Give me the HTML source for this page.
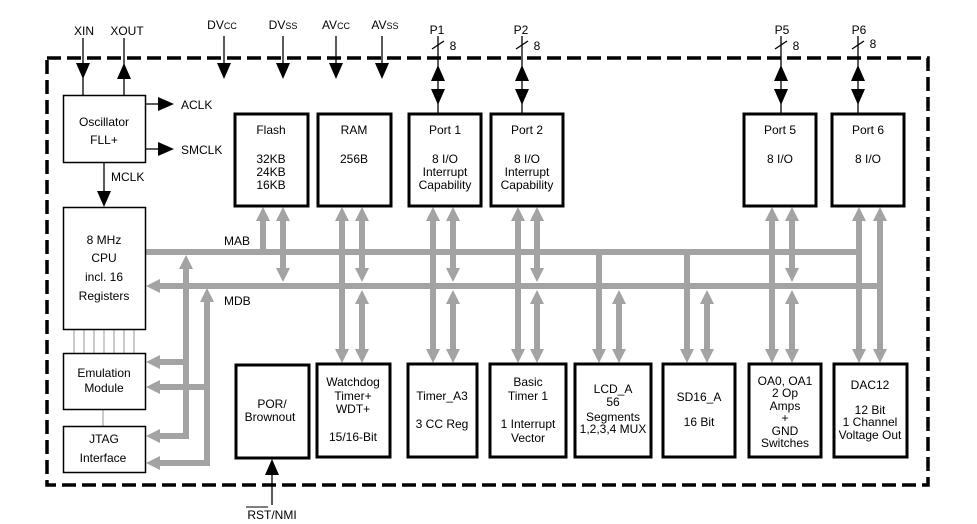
<!DOCTYPE html>
<html><head><meta charset="utf-8"><style>
html,body{margin:0;padding:0;background:#fff}
svg{display:block}
text{font-family:"Liberation Sans",Arial,sans-serif;font-size:12px;fill:#000}
</style></head><body>
<svg width="977" height="524" viewBox="0 0 977 524" xmlns="http://www.w3.org/2000/svg">
<defs>
<marker id="g" viewBox="0 0 14 14" markerWidth="14" markerHeight="14" refX="0" refY="7" orient="auto-start-reverse" markerUnits="userSpaceOnUse">
<path d="M0,0 L14,7 L0,14 z" fill="#a3a3a3"/></marker>
</defs>
<!-- dashed border -->
<rect x="47" y="58" width="881" height="427" fill="none" stroke="#000" stroke-width="3.5" stroke-dasharray="14,6"/>

<!-- gray buses -->
<g stroke="#a3a3a3" stroke-width="6" fill="none">
<line x1="145" y1="252" x2="862" y2="252"/>
<line x1="160" y1="286" x2="883" y2="286" marker-start="url(#g)"/>
<!-- left verticals -->
<line x1="186" y1="269" x2="186" y2="439" marker-start="url(#g)"/>
<line x1="207" y1="302" x2="207" y2="466" marker-start="url(#g)"/>
<line x1="189" y1="362" x2="160" y2="362" marker-end="url(#g)"/>
<line x1="189" y1="436" x2="160" y2="436" marker-end="url(#g)"/>
<line x1="210" y1="387" x2="160" y2="387" marker-end="url(#g)"/>
<line x1="210" y1="463" x2="160" y2="463" marker-end="url(#g)"/>
<!-- Flash -->
<line x1="263" y1="252" x2="263" y2="221" marker-end="url(#g)"/>
<line x1="283" y1="221" x2="283" y2="268" marker-start="url(#g)" marker-end="url(#g)"/>
<!-- RAM/WDT -->
<line x1="342" y1="221" x2="342" y2="349" marker-start="url(#g)" marker-end="url(#g)"/>
<line x1="362" y1="221" x2="362" y2="268" marker-start="url(#g)" marker-end="url(#g)"/>
<line x1="362" y1="304" x2="362" y2="349" marker-start="url(#g)" marker-end="url(#g)"/>
<!-- Port1/TimerA -->
<line x1="433" y1="221" x2="433" y2="349" marker-start="url(#g)" marker-end="url(#g)"/>
<line x1="453" y1="221" x2="453" y2="268" marker-start="url(#g)" marker-end="url(#g)"/>
<line x1="453" y1="304" x2="453" y2="349" marker-start="url(#g)" marker-end="url(#g)"/>
<!-- Port2/Basic -->
<line x1="518" y1="221" x2="518" y2="349" marker-start="url(#g)" marker-end="url(#g)"/>
<line x1="537" y1="221" x2="537" y2="268" marker-start="url(#g)" marker-end="url(#g)"/>
<line x1="537" y1="304" x2="537" y2="349" marker-start="url(#g)" marker-end="url(#g)"/>
<!-- LCD -->
<line x1="599" y1="249" x2="599" y2="349" marker-end="url(#g)"/>
<line x1="619" y1="304" x2="619" y2="349" marker-start="url(#g)" marker-end="url(#g)"/>
<!-- SD16 -->
<line x1="687" y1="249" x2="687" y2="349" marker-end="url(#g)"/>
<line x1="707" y1="304" x2="707" y2="349" marker-start="url(#g)" marker-end="url(#g)"/>
<!-- Port5/OA -->
<line x1="772" y1="221" x2="772" y2="349" marker-start="url(#g)" marker-end="url(#g)"/>
<line x1="792" y1="221" x2="792" y2="268" marker-start="url(#g)" marker-end="url(#g)"/>
<line x1="792" y1="304" x2="792" y2="349" marker-start="url(#g)" marker-end="url(#g)"/>
<!-- Port6/DAC -->
<line x1="859" y1="221" x2="859" y2="349" marker-start="url(#g)" marker-end="url(#g)"/>
<line x1="880" y1="221" x2="880" y2="349" marker-start="url(#g)" marker-end="url(#g)"/>
</g>

<!-- thin lines CPU-Emulation-JTAG -->
<g stroke="#999" stroke-width="1">
<line x1="74" y1="330" x2="74" y2="353"/><line x1="84" y1="330" x2="84" y2="353"/>
<line x1="94" y1="330" x2="94" y2="353"/><line x1="104" y1="330" x2="104" y2="353"/>
<line x1="114" y1="330" x2="114" y2="353"/><line x1="124" y1="330" x2="124" y2="353"/>
<line x1="134" y1="330" x2="134" y2="353"/>
<line x1="103" y1="409" x2="103" y2="426"/>
</g>

<!-- black pins -->
<g stroke="#000" stroke-width="1.3">
<line x1="83" y1="38" x2="83" y2="95"/>
<line x1="124" y1="38" x2="124" y2="95"/>
<line x1="224" y1="36" x2="224" y2="66"/>
<line x1="283" y1="36" x2="283" y2="66"/>
<line x1="336" y1="36" x2="336" y2="66"/>
<line x1="382" y1="36" x2="382" y2="66"/>
<line x1="438" y1="36" x2="438" y2="113"/>
<line x1="522" y1="36" x2="522" y2="113"/>
<line x1="781" y1="36" x2="781" y2="113"/>
<line x1="858" y1="36" x2="858" y2="113"/>
<line x1="432" y1="49" x2="444" y2="41"/>
<line x1="516" y1="49" x2="528" y2="41"/>
<line x1="775" y1="49" x2="787" y2="41"/>
<line x1="852" y1="49" x2="864" y2="41"/>
<line x1="145" y1="104" x2="160" y2="104"/>
<line x1="145" y1="149" x2="160" y2="149"/>
<line x1="104" y1="162" x2="104" y2="192"/>
<line x1="272" y1="472" x2="272" y2="505"/>
</g>
<g fill="#000">
<path d="M76,63 L90,63 L83,79 z"/>
<path d="M117,79 L131,79 L124,63 z"/>
<path d="M217,63 L231,63 L224,79 z"/>
<path d="M276,63 L290,63 L283,79 z"/>
<path d="M329,63 L343,63 L336,79 z"/>
<path d="M375,63 L389,63 L382,79 z"/>
<path d="M431,81 L445,81 L438,65 z"/><path d="M431,89 L445,89 L438,105 z"/>
<path d="M515,81 L529,81 L522,65 z"/><path d="M515,89 L529,89 L522,105 z"/>
<path d="M774,81 L788,81 L781,65 z"/><path d="M774,89 L788,89 L781,105 z"/>
<path d="M851,81 L865,81 L858,65 z"/><path d="M851,89 L865,89 L858,105 z"/>
<path d="M158,97 L174,104 L158,111 z"/>
<path d="M158,142 L174,149 L158,156 z"/>
<path d="M97,191 L111,191 L104,207 z"/>
<path d="M265,475 L279,475 L272,459 z"/>
</g>

<!-- boxes -->
<g fill="#fff" stroke="#000">
<rect x="63.5" y="95.5" width="82" height="67" stroke-width="1.5"/>
<rect x="63.5" y="207.5" width="82" height="122" stroke-width="1.5"/>
<rect x="63.5" y="353.5" width="82" height="56" stroke-width="1.5"/>
<rect x="63.5" y="426.5" width="82" height="46" stroke-width="1.5"/>
<g stroke-width="3">
<rect x="235" y="114" width="73" height="92"/>
<rect x="318" y="114" width="73" height="92"/>
<rect x="409" y="114" width="72" height="92"/>
<rect x="491" y="114" width="72" height="92"/>
<rect x="744" y="114" width="72" height="92"/>
<rect x="832" y="114" width="72" height="92"/>
<rect x="236" y="365" width="73" height="93"/>
<rect x="317" y="364" width="73" height="93"/>
<rect x="408" y="364" width="69" height="93"/>
<rect x="490" y="364" width="76" height="93"/>
<rect x="575" y="364" width="76" height="93"/>
<rect x="663" y="364" width="72" height="93"/>
<rect x="749" y="364" width="72" height="93"/>
<rect x="834" y="364" width="73" height="93"/>
</g></g>

<!-- labels -->
<g text-anchor="middle">
<text x="84" y="35">XIN</text><text x="127" y="35">XOUT</text>
<text x="222" y="29">DV<tspan font-size="9">CC</tspan></text>
<text x="283" y="29">DV<tspan font-size="9">SS</tspan></text>
<text x="336" y="29">AV<tspan font-size="9">CC</tspan></text>
<text x="385" y="29">AV<tspan font-size="9">SS</tspan></text>
<text x="437" y="34">P1</text><text x="521" y="34">P2</text>
<text x="782" y="34">P5</text><text x="859" y="34">P6</text>
<text x="453" y="50">8</text><text x="537" y="50">8</text>
<text x="796" y="50">8</text><text x="873" y="48">8</text>
<text x="104" y="126">Oscillator</text><text x="104" y="144">FLL+</text>
<text x="104" y="244">8 MHz</text><text x="104" y="262">CPU</text>
<text x="104" y="281">incl. 16</text><text x="104" y="300">Registers</text>
<text x="104" y="377">Emulation</text><text x="104" y="392">Module</text>
<text x="104" y="443">JTAG</text><text x="103" y="462">Interface</text>
<text x="271" y="134">Flash</text><text x="271" y="163">32KB</text>
<text x="271" y="176">24KB</text><text x="271" y="189">16KB</text>
<text x="354" y="134">RAM</text><text x="354" y="163">256B</text>
<text x="445" y="134">Port 1</text><text x="445" y="163">8 I/O</text>
<text x="445" y="176">Interrupt</text><text x="445" y="189">Capability</text>
<text x="527" y="134">Port 2</text><text x="527" y="163">8 I/O</text>
<text x="527" y="176">Interrupt</text><text x="527" y="189">Capability</text>
<text x="780" y="134">Port 5</text><text x="780" y="163">8 I/O</text>
<text x="868" y="134">Port 6</text><text x="868" y="163">8 I/O</text>
<text x="272" y="408">POR/</text><text x="270" y="421">Brownout</text>
<text x="353" y="386">Watchdog</text><text x="353" y="400">Timer+</text>
<text x="353" y="413">WDT+</text><text x="353" y="441">15/16-Bit</text>
<text x="442" y="400">Timer_A3</text><text x="442" y="428">3 CC Reg</text>
<text x="528" y="386">Basic</text><text x="528" y="400">Timer 1</text>
<text x="528" y="428">1 Interrupt</text><text x="528" y="442">Vector</text>
<text x="613" y="393">LCD_A</text><text x="613" y="406">56</text>
<text x="613" y="421">Segments</text><text x="613" y="433">1,2,3,4 MUX</text>
<text x="699" y="401">SD16_A</text><text x="699" y="426">16 Bit</text>
<text x="785" y="385">OA0, OA1</text><text x="785" y="397">2 Op</text>
<text x="785" y="410">Amps</text><text x="785" y="422">+</text>
<text x="785" y="435">GND</text><text x="785" y="447">Switches</text>
<text x="870" y="389">DAC12</text><text x="870" y="414">12 Bit</text>
<text x="870" y="426">1 Channel</text><text x="870" y="439">Voltage Out</text>
<text x="272" y="519">RST/NMI</text>
</g>
<line x1="246" y1="507" x2="268" y2="507" stroke="#000" stroke-width="1"/>
<text x="181" y="109">ACLK</text><text x="181" y="154">SMCLK</text>
<text x="111" y="181">MCLK</text>
<text x="224" y="245">MAB</text><text x="224" y="305">MDB</text>
</svg>
</body></html>
